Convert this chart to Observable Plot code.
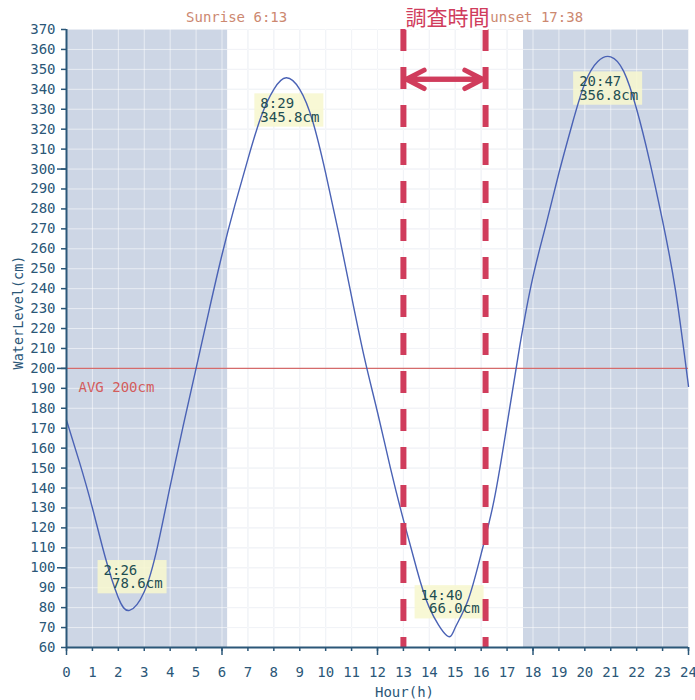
<!DOCTYPE html>
<html><head><meta charset="utf-8">
<script src="https://cdn.jsdelivr.net/npm/d3@7"></script>
<script src="https://cdn.jsdelivr.net/npm/@observablehq/plot@0.6"></script>
<style>body{margin:0;background:#fff}</style>
</head><body><div id="chart"></div>
<script>
// Tide series (hour of day, water level in cm)
const hours  = [0, 0.5, 1, 1.5, 2, 2.43, 3, 3.5, 4, 4.5, 5, 5.5, 6, 6.5, 7, 7.5, 8, 8.48, 9, 9.5, 10, 10.5, 11, 11.5, 12, 12.5, 13, 13.5, 14, 14.67, 15, 15.5, 16, 16.5, 17, 17.5, 18, 18.5, 19, 19.5, 20, 20.5, 21, 21.5, 22, 22.5, 23, 23.5, 24];
const levels = [174, 153, 130, 105, 85, 78.6, 88, 110, 141, 171, 200, 229, 257, 282, 305, 326, 340, 345.8, 340, 324, 298, 268, 236, 205, 178, 150, 124, 100, 80, 66, 70, 84, 107, 134, 172, 212, 246, 272, 298, 322, 343, 354, 356.3, 349, 330, 304, 274, 239, 191];

// Extremes (high/low water)
const extremeTimes  = ["2:26", "8:29", "14:40", "20:47"];
const extremeLevels = [78.6, 345.8, 66.0, 356.8];
const extremeKinds  = ["low", "high", "low", "high"];

const sunrise = "6:13";
const sunset = "17:38";
const surveyStart = 13;      // 調査時間 start (h)
const surveyEnd = 16.17;     // 調査時間 end (h)
const arrowLevel = 345;      // level of the double arrow
const average = 200;

const hourTicks = d3.range(0, 25, 1);
const majorHourTicks = [0, 6, 12, 18, 24];
const levelTicks = d3.range(60, 371, 10);
const majorLevelTicks = [100, 200, 300];

const toHour = s => { const [h, m] = s.split(":").map(Number); return h + m / 60; };
const series = hours.map((h, i) => ({hour: h, level: levels[i]}));
const extremes = extremeTimes.map((t, i) => ({
  hour: toHour(t), level: extremeLevels[i], kind: extremeKinds[i],
  label: `${t}\n${extremeLevels[i].toFixed(1).padStart(5, "\u00a0")}cm`
}));
const nights = [{start: hourTicks[0], end: toHour(sunrise)}, {start: toHour(sunset), end: hourTicks[hourTicks.length - 1]}];
const sunEvents = [{hour: toHour(sunrise), label: `Sunrise ${sunrise}`}, {hour: toHour(sunset), label: `Sunset ${sunset}`}];
const mid = (surveyStart + surveyEnd) / 2;
const survey = [surveyStart, surveyEnd];

const mono = "DejaVu Sans Mono";
const axisColor = "#2b5778";
const surveyColor = "#d03c5c";
const labelText = "#1f4e52";

const plot = Plot.plot({
  width: 695, height: 700,
  marginLeft: 66, marginRight: 7, marginTop: 29, marginBottom: 53,
  x: {domain: [0, 24], label: null},
  y: {domain: [60, 370], label: null},
  style: {fontFamily: mono, fontSize: "14px", color: axisColor, background: "white", overflow: "visible"},
  marks: [
    Plot.gridX(hourTicks, {stroke: "#e2e6ee", strokeOpacity: 1}),
    Plot.gridY(levelTicks, {stroke: "#e2e6ee", strokeOpacity: 1}),
    Plot.rect(nights, {x1: "start", x2: "end", fill: "#cdd6e5"}),
    Plot.gridX(hourTicks, {stroke: "#ffffff", strokeOpacity: 0.55}),
    Plot.gridY(levelTicks, {stroke: "#ffffff", strokeOpacity: 0.55}),
    Plot.ruleY([average], {stroke: "#d56b6b", strokeWidth: 1.2}),
    Plot.text([`AVG ${average}cm`], {y: average, frameAnchor: "left", dx: 12, dy: 19, textAnchor: "start", lineAnchor: "middle", fill: "#d35c5c", fontSize: 14}),
    Plot.line(series, {x: "hour", y: "level", stroke: "#4a62b5", strokeWidth: 1.4, curve: "natural"}),
    Plot.ruleX(survey, {stroke: surveyColor, strokeWidth: 6, strokeDasharray: "22,16"}),
    Plot.arrow(survey, {x1: d => d === surveyStart ? surveyEnd : surveyStart, x2: d => d, y1: arrowLevel, y2: arrowLevel,
      stroke: surveyColor, strokeWidth: 5, headLength: 6, headAngle: 55, insetEnd: 3, insetStart: 3, strokeLinecap: "round", strokeLinejoin: "round"}),
    Plot.text(extremes.filter(d => d.kind === "low"), {x: "hour", y: "level", text: "label", dx: -26, dy: -33, textAnchor: "start", lineAnchor: "middle", lineHeight: 0.95, fill: labelText, fontSize: 14}),
    Plot.text(extremes.filter(d => d.kind === "high"), {x: "hour", y: "level", text: "label", dx: -26, dy: 33, textAnchor: "start", lineAnchor: "middle", lineHeight: 0.95, fill: labelText, fontSize: 14}),
    Plot.text(sunEvents, {x: "hour", text: "label", frameAnchor: "top", dx: 9, dy: -11.5, lineAnchor: "middle", fill: "#cc8870", fontSize: 14}),
    Plot.text(["調査時間"], {x: mid, frameAnchor: "top", dx: 3, dy: -11.5, lineAnchor: "middle", fill: surveyColor, stroke: "white", strokeWidth: 5, fontSize: 21, fontWeight: 400, fontFamily: "Noto Sans CJK JP"}),
    Plot.axisY({ticks: levelTicks, tickSize: 5, tickPadding: 6, strokeWidth: 1.5, label: null, fontSize: 14}),
    Plot.axisY({ticks: majorLevelTicks, tickSize: 9, tickFormat: () => "", strokeWidth: 1.5, label: null}),
    Plot.axisX({ticks: hourTicks, tickSize: 4, tickPadding: 16, strokeWidth: 1.5, label: null, fontSize: 14}),
    Plot.axisX({ticks: majorHourTicks, tickSize: 8, tickFormat: () => "", strokeWidth: 1.5, label: null}),
    Plot.ruleX([hourTicks[0]], {stroke: axisColor, strokeWidth: 2}),
    Plot.ruleY([levelTicks[0]], {stroke: axisColor, strokeWidth: 2}),
    Plot.text(["Hour(h)"], {frameAnchor: "bottom", dx: 27, dy: 45, lineAnchor: "middle", fontSize: 14, fill: axisColor}),
    Plot.text(["WaterLevel(cm)"], {frameAnchor: "left", rotate: -90, dx: -48, dy: -26, textAnchor: "middle", lineAnchor: "middle", fontSize: 13.5, fill: axisColor})
  ]
});

const container = document.getElementById("chart");
container.append(plot);

// pale yellow boxes behind the extreme labels, sized from the rendered text
const ns = "http://www.w3.org/2000/svg";
const svgRect = plot.getBoundingClientRect();
const boxG = document.createElementNS(ns, "g");
const labelSet = new Set(extremes.map(d => d.label.replace(/\n/g, "")));
plot.querySelectorAll("text").forEach(t => {
  if (!labelSet.has(t.textContent)) return;
  const r = t.getBoundingClientRect();
  const rect = document.createElementNS(ns, "rect");
  rect.setAttribute("x", r.left - svgRect.left - 6);
  rect.setAttribute("y", r.top - svgRect.top - 2);
  rect.setAttribute("width", r.width + 10);
  rect.setAttribute("height", r.height + 4);
  rect.setAttribute("fill", "#f7f7cf");
  rect.setAttribute("fill-opacity", 0.88);
  boxG.append(rect);
});
const lineG = plot.querySelector('g[aria-label="line"]');
lineG.parentNode.insertBefore(boxG, lineG);
</script>
</body></html>
